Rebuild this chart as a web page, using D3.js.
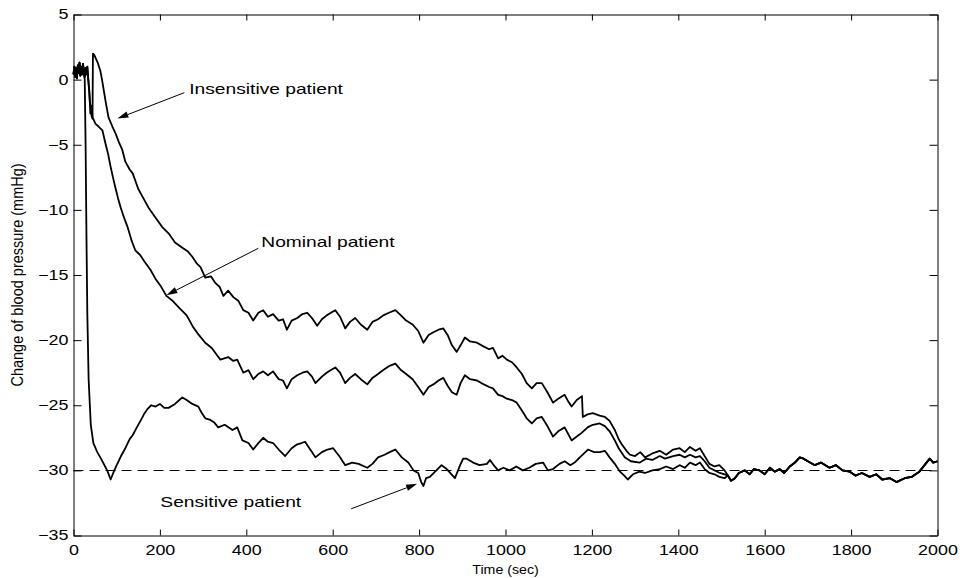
<!DOCTYPE html>
<html><head><meta charset="utf-8">
<script src="https://cdn.jsdelivr.net/npm/d3@7"></script>
<style>body{margin:0;background:#fff}</style>
</head><body>
<svg id="c" width="960" height="578"></svg>
<script>
const xTicks = [0,200,400,600,800,1000,1200,1400,1600,1800,2000];
const yTicks = [-35,-30,-25,-20,-15,-10,-5,0,5];
const xLabel = "Time (sec)";
const yLabel = "Change of blood pressure (mmHg)";
const referenceLevel = -30;

// [time (sec), change (mmHg)]
const commonStart = [[0,0.4],[2,1.0],[4,0.2],[6,0.9],[8,0.1],[10,1.1],[12,0.5],[14,1.3],[16,0.3],[18,1.0],[20,0.4],[22,1.2],[24,0.6]];

const insensitive = [[26,0.2],[28,0.9],[30,0.4],[32,1.0],[34,0.1],[36,-0.8],[38,-1.8],[40,-2.2],[42,-2.8],[44,-3.0],[45,2.0],[48,1.9],[52,1.6],[56,1.3],[62,0.7],[66,0.0],[70,-0.8],[75,-1.8],[81,-2.9],[90,-3.6],[97,-4.1],[105,-4.8],[113,-5.4],[120,-6.3],[130,-6.9],[137,-7.2],[150,-8.4],[160,-9.0],[175,-9.9],[190,-10.6],[205,-11.3],[220,-11.8],[235,-12.5],[252,-12.9],[265,-13.2],[275,-13.6],[285,-14.1],[294,-14.4],[305,-15.2],[318,-15.1],[328,-15.6],[338,-15.9],[347,-16.6],[358,-16.2],[370,-16.7],[382,-17.0],[393,-17.7],[405,-17.9],[416,-18.5],[428,-17.9],[439,-17.7],[450,-18.2],[462,-18.0],[475,-18.5],[485,-18.4],[494,-19.2],[505,-18.5],[518,-18.3],[530,-18.0],[541,-17.9],[552,-18.3],[564,-18.9],[575,-18.4],[586,-18.1],[596,-17.9],[606,-17.7],[617,-18.2],[629,-19.1],[640,-18.6],[652,-18.3],[665,-18.8],[680,-19.2],[692,-18.6],[705,-18.4],[717,-18.1],[730,-17.9],[745,-17.7],[758,-18.1],[770,-18.5],[785,-18.8],[798,-19.3],[810,-20.2],[822,-19.6],[833,-19.4],[845,-19.2],[856,-19.1],[866,-19.6],[876,-20.4],[887,-20.9],[896,-20.4],[906,-19.8],[918,-20.1],[934,-20.2],[950,-20.5],[962,-20.7],[971,-20.6],[983,-21.4],[993,-21.2],[1003,-21.5],[1015,-21.7],[1026,-22.1],[1038,-22.6],[1049,-23.3],[1061,-23.7],[1072,-23.3],[1084,-23.3],[1097,-24.0],[1110,-24.8],[1122,-24.5],[1137,-24.2],[1145,-24.7],[1153,-25.1],[1165,-24.6],[1177,-24.3],[1179,-25.9],[1190,-25.7],[1202,-25.6],[1218,-25.8],[1230,-25.9],[1241,-26.2],[1253,-26.9],[1262,-27.6],[1269,-28.0],[1280,-28.5],[1288,-28.8],[1300,-28.9],[1312,-28.6],[1323,-29.0],[1340,-28.7],[1357,-28.5],[1372,-28.8],[1388,-28.4],[1403,-28.3],[1415,-28.6],[1427,-28.2],[1440,-28.5],[1450,-28.3],[1461,-28.9],[1472,-29.5],[1484,-29.7],[1495,-29.6],[1507,-30.0]];

const nominal = [[26,0.2],[28,0.9],[30,0.4],[32,1.0],[34,0.1],[37,-1.0],[39,-2.6],[42,-2.0],[44,-2.9],[47,-3.1],[51,-3.4],[58,-3.6],[67,-3.9],[74,-4.9],[80,-5.7],[86,-6.7],[92,-7.6],[97,-8.3],[103,-9.1],[109,-9.8],[117,-10.6],[125,-11.3],[135,-12.4],[143,-13.1],[155,-13.5],[165,-14.0],[178,-14.6],[190,-15.3],[201,-15.8],[215,-16.6],[230,-17.0],[247,-17.6],[262,-18.1],[277,-19.0],[290,-19.6],[305,-20.2],[320,-20.6],[340,-21.5],[358,-21.3],[370,-21.6],[379,-21.5],[393,-22.5],[405,-22.3],[416,-23.0],[428,-22.6],[439,-22.4],[450,-22.7],[462,-22.4],[475,-23.0],[485,-23.1],[494,-23.7],[505,-23.0],[518,-22.7],[530,-22.5],[541,-22.4],[552,-22.8],[560,-23.3],[575,-22.8],[586,-22.5],[596,-22.3],[606,-22.1],[617,-22.5],[629,-23.3],[640,-22.9],[652,-22.6],[665,-23.0],[680,-23.4],[692,-22.9],[705,-22.6],[717,-22.3],[730,-22.0],[745,-21.8],[758,-22.3],[770,-22.6],[785,-23.0],[798,-23.6],[810,-24.2],[822,-23.6],[833,-23.4],[845,-23.1],[856,-22.9],[866,-23.5],[876,-24.0],[887,-24.2],[896,-23.3],[906,-22.7],[918,-23.0],[934,-23.1],[950,-23.4],[962,-23.6],[971,-23.7],[983,-24.2],[993,-24.3],[1003,-24.5],[1015,-24.6],[1026,-24.8],[1038,-25.4],[1049,-26.0],[1061,-26.4],[1072,-26.0],[1084,-25.9],[1097,-26.6],[1110,-27.4],[1122,-27.0],[1137,-26.7],[1145,-27.2],[1153,-27.7],[1165,-27.4],[1177,-27.1],[1190,-26.7],[1202,-26.5],[1218,-26.4],[1230,-26.6],[1241,-27.0],[1253,-27.7],[1262,-28.3],[1276,-29.0],[1290,-29.3],[1311,-29.4],[1325,-29.1],[1340,-29.2],[1357,-28.9],[1369,-29.1],[1388,-28.9],[1403,-28.8],[1415,-29.0],[1427,-28.8],[1440,-29.0],[1450,-28.9],[1461,-29.3],[1472,-29.8],[1484,-30.0],[1496,-30.2],[1507,-30.3]];

const sensitive = [[26,0.0],[28,-5.0],[30,-12.0],[32,-18.0],[35,-23.0],[40,-26.5],[46,-27.9],[55,-28.6],[62,-29.0],[70,-29.5],[78,-30.0],[86,-30.7],[92,-30.2],[100,-29.6],[110,-28.9],[120,-28.3],[130,-27.6],[137,-27.3],[145,-26.8],[155,-26.2],[163,-25.7],[171,-25.3],[180,-25.0],[190,-25.1],[200,-24.9],[210,-25.2],[220,-25.2],[235,-24.9],[245,-24.6],[252,-24.4],[262,-24.6],[275,-24.9],[289,-25.1],[297,-25.6],[305,-26.0],[315,-26.1],[325,-26.3],[335,-26.7],[350,-26.5],[368,-26.9],[379,-26.7],[391,-27.7],[405,-27.9],[416,-28.4],[428,-27.9],[439,-27.5],[450,-27.8],[462,-27.9],[475,-28.4],[490,-28.9],[505,-28.3],[518,-28.0],[528,-27.9],[536,-27.8],[548,-28.4],[560,-29.0],[575,-28.6],[588,-28.4],[601,-28.3],[615,-28.9],[629,-29.6],[645,-29.4],[660,-29.5],[680,-29.8],[692,-29.5],[705,-29.0],[720,-28.8],[732,-28.6],[745,-28.4],[760,-29.0],[775,-29.4],[787,-30.0],[798,-30.2],[805,-30.9],[810,-31.2],[816,-30.6],[825,-30.5],[840,-30.0],[852,-29.6],[864,-29.9],[875,-30.3],[883,-30.6],[895,-29.6],[902,-29.1],[910,-29.1],[925,-29.4],[940,-29.6],[957,-29.5],[964,-29.2],[975,-29.7],[983,-30.0],[995,-29.8],[1010,-30.0],[1025,-29.7],[1040,-30.0],[1055,-29.8],[1070,-29.5],[1087,-29.4],[1098,-30.0],[1110,-29.9],[1125,-29.5],[1137,-29.3],[1150,-29.6],[1160,-29.4],[1172,-29.0],[1191,-28.4],[1205,-28.6],[1218,-28.6],[1230,-28.5],[1241,-29.0],[1253,-29.5],[1265,-30.1],[1275,-30.4],[1283,-30.7],[1295,-30.3],[1310,-30.1],[1323,-30.2],[1340,-30.0],[1357,-29.9],[1372,-29.7],[1388,-29.9],[1403,-29.6],[1415,-29.8],[1427,-29.4],[1440,-29.6],[1450,-29.4],[1461,-29.9],[1472,-30.2],[1484,-30.3],[1495,-30.5],[1507,-30.6]];

const commonTail = [[1515,-30.4],[1522,-30.8],[1531,-30.6],[1540,-30.2],[1554,-30.0],[1565,-30.3],[1575,-29.9],[1588,-30.0],[1600,-30.3],[1612,-29.8],[1623,-30.1],[1635,-29.9],[1645,-30.2],[1658,-29.7],[1670,-29.4],[1681,-29.0],[1690,-29.1],[1700,-29.3],[1716,-29.6],[1730,-29.4],[1750,-29.8],[1765,-29.6],[1780,-30.0],[1797,-30.1],[1810,-30.4],[1825,-30.2],[1843,-30.5],[1858,-30.3],[1872,-30.7],[1890,-30.6],[1905,-30.9],[1924,-30.6],[1940,-30.5],[1958,-30.1],[1970,-29.6],[1982,-29.1],[1990,-29.4],[2000,-29.3]];

// annotation: label, text anchor [t,v], arrow start [t,v], arrow tip [t,v]
const annotationLabels = ["Insensitive patient","Nominal patient","Sensitive patient"];
const annotationText = [[268,-1.07],[434.7,-12.87],[201,-32.8]];
const annotationFrom = [[256.6,-1.0],[427.7,-12.95],[642.8,-32.95]];
const annotationTo = [[101.7,-2.99],[215,-16.55],[795.4,-31.03]];

const svg = d3.select("#c");
const FONT = "'Liberation Sans', Arial, Helvetica, sans-serif";
const SX = 1.28; // horizontal glyph stretch seen in the reference

const x = d3.scaleLinear().domain([0,2000]).range([73.5,937.5]);
const y = d3.scaleLinear().domain([-35,5]).range([535.5,14.5]);

// reference dashed line
svg.append("line")
  .attr("x1", x(0)).attr("x2", x(2000))
  .attr("y1", Math.round(y(referenceLevel))+0.5).attr("y2", Math.round(y(referenceLevel))+0.5)
  .attr("stroke","#000").attr("stroke-width",1).attr("stroke-dasharray","10,6");

// curves
const line = d3.line().x(d=>x(d[0])).y(d=>y(d[1]));
const series = [
  commonStart.concat(sensitive, commonTail),
  commonStart.concat(nominal, commonTail),
  commonStart.concat(insensitive, commonTail)
];
svg.selectAll("path.curve").data(series).enter().append("path")
  .attr("class","curve")
  .attr("d", line)
  .attr("fill","none").attr("stroke","#000").attr("stroke-width",1.8)
  .attr("stroke-linejoin","round");

// axes (box with inward ticks)
function styleAxis(g){
  g.select(".domain").attr("stroke","#000").attr("stroke-width",1);
  g.selectAll(".tick line").attr("stroke","#000").attr("stroke-width",1);
  g.selectAll("text").attr("font-family",FONT).attr("font-size",14).attr("fill","#000");
}
const gB = svg.append("g").attr("transform",`translate(0,${y(-35)})`)
  .call(d3.axisBottom(x).tickValues(xTicks).tickSizeInner(-6).tickSizeOuter(0).tickPadding(10).tickFormat(d3.format("d")));
styleAxis(gB);
gB.selectAll("text").attr("transform",`scale(${SX},1)`);

const gT = svg.append("g").attr("transform",`translate(0,${y(5)})`)
  .call(d3.axisTop(x).tickValues(xTicks).tickSizeInner(-6).tickSizeOuter(0).tickFormat(""));
styleAxis(gT);

const gL = svg.append("g").attr("transform",`translate(${x(0)},0)`)
  .call(d3.axisLeft(y).tickValues(yTicks).tickSizeInner(-8).tickSizeOuter(0).tickPadding(4).tickFormat(d3.format("d")));
styleAxis(gL);
gL.selectAll("text").attr("transform",`scale(${SX},1)`);

const gR = svg.append("g").attr("transform",`translate(${x(2000)},0)`)
  .call(d3.axisRight(y).tickValues(yTicks).tickSizeInner(-8).tickSizeOuter(0).tickFormat(""));
styleAxis(gR);

// axis labels
svg.append("text")
  .attr("transform",`translate(${(x(0)+x(2000))/2},574) scale(1.05,1)`)
  .attr("text-anchor","middle").attr("font-family",FONT).attr("font-size",13.5)
  .text(xLabel);
svg.append("text")
  .attr("transform",`translate(23,${(y(-35)+y(5))/2}) scale(1.1,1) rotate(-90)`)
  .attr("text-anchor","middle").attr("font-family",FONT).attr("font-size",14.5)
  .text(yLabel);

// annotations
annotationLabels.forEach((lab,i)=>{
  const [tx,ty] = annotationText[i];
  svg.append("text")
    .attr("transform",`translate(${x(tx)},${y(ty)}) scale(${SX},1)`)
    .attr("font-family",FONT).attr("font-size",15).attr("fill","#000")
    .text(lab);
  const x1 = x(annotationFrom[i][0]), y1 = y(annotationFrom[i][1]);
  const x2 = x(annotationTo[i][0]), y2 = y(annotationTo[i][1]);
  const ang = Math.atan2(y2-y1, x2-x1);
  const L = 11, W = 3.2;
  const bx = x2 - L*Math.cos(ang), by = y2 - L*Math.sin(ang);
  svg.append("line").attr("x1",x1).attr("y1",y1).attr("x2",bx).attr("y2",by)
    .attr("stroke","#000").attr("stroke-width",1);
  svg.append("path")
    .attr("d",`M${x2},${y2}L${bx - W*Math.sin(ang)},${by + W*Math.cos(ang)}L${bx + W*Math.sin(ang)},${by - W*Math.cos(ang)}Z`)
    .attr("fill","#000");
});
</script>
</body></html>
